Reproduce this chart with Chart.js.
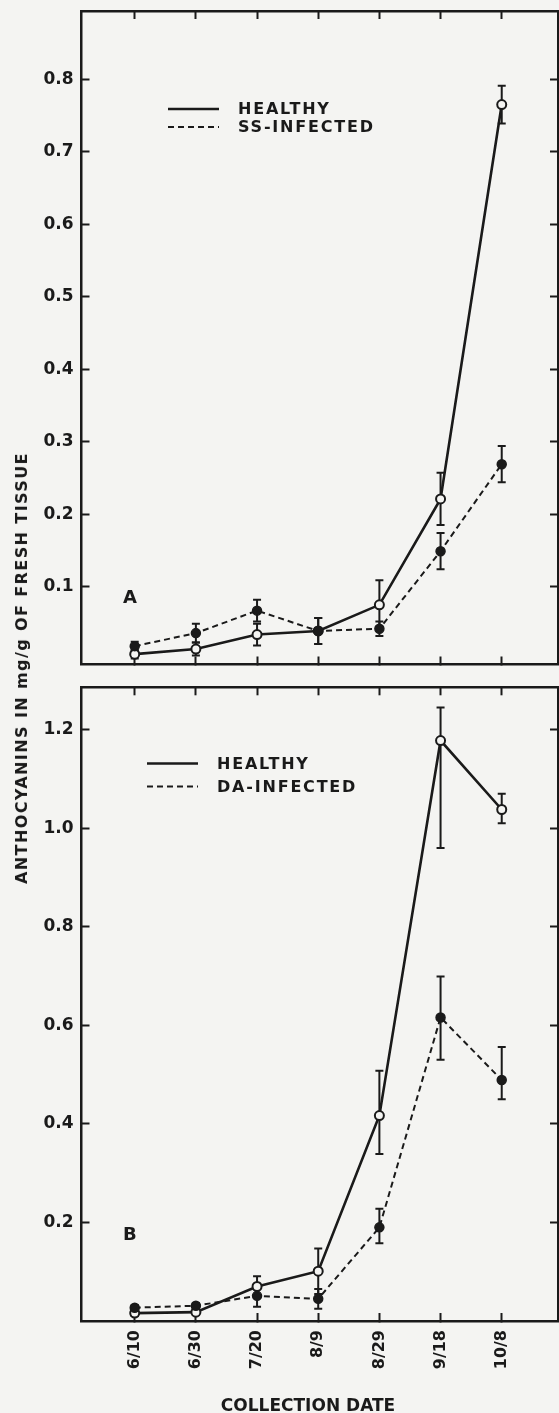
<!DOCTYPE html>
<html>
<head>
<meta charset="utf-8">
<script src="https://cdn.jsdelivr.net/npm/chart.js@4.4.1/dist/chart.umd.min.js"></script>
<style>
html, body { margin: 0; padding: 0; background: #f4f4f2; }
body { width: 559px; height: 1413px; position: relative; overflow: hidden; font-family: "DejaVu Sans", sans-serif; }
#wrapA { position: absolute; left: 0; top: 0; width: 559px; height: 680px; }
#wrapB { position: absolute; left: 0; top: 680px; width: 559px; height: 733px; }
.ytitle { position: absolute; left: 22px; top: 668px; transform: translate(-50%, -50%) rotate(-90deg);
  white-space: nowrap; font: bold 16px "DejaVu Sans"; letter-spacing: 1.4px; color: #1a1a1a; line-height: 1; }
.xtitle { position: absolute; left: 308px; top: 1405px; transform: translate(-50%, -50%);
  white-space: nowrap; font: bold 17px "DejaVu Sans"; color: #1a1a1a; line-height: 1; }
</style>
</head>
<body>
<div id="wrapA"><canvas id="chartA"></canvas></div>
<div id="wrapB"><canvas id="chartB"></canvas></div>
<div class="ytitle">ANTHOCYANINS IN mg/g OF FRESH TISSUE</div>
<div class="xtitle">COLLECTION DATE</div>
<script>
// ---------- data ----------
const dates = ['6/10', '6/30', '7/20', '8/9', '8/29', '9/18', '10/8'];

// Panel A
const healthyA     = [0.007, 0.014, 0.034, 0.039, 0.075, 0.221, 0.765];
const healthyErrA  = [0.006, 0.009, 0.015, 0.018, 0.034, 0.036, 0.026];
const ssInfectedA  = [0.018, 0.036, 0.067, 0.039, 0.042, 0.149, 0.269];
const ssErrA       = [0.006, 0.013, 0.015, 0.018, 0.010, 0.025, 0.025];
const yTicksA      = [0.1, 0.2, 0.3, 0.4, 0.5, 0.6, 0.7, 0.8];

// Panel B
const healthyB        = [0.016, 0.018, 0.070, 0.101, 0.417, 1.178, 1.038];
const healthyErrUpB   = [0.006, 0.006, 0.021, 0.046, 0.091, 0.067, 0.032];
const healthyErrDownB = [0.006, 0.006, 0.021, 0.046, 0.078, 0.218, 0.028];
const daInfectedB     = [0.027, 0.031, 0.051, 0.045, 0.190, 0.616, 0.489];
const daErrUpB        = [0.005, 0.005, 0.022, 0.020, 0.038, 0.083, 0.067];
const daErrDownB      = [0.005, 0.005, 0.022, 0.020, 0.032, 0.086, 0.039];
const yTicksB         = [0.2, 0.4, 0.6, 0.8, 1.0, 1.2];

// ---------- styling ----------
const ink = '#1a1a1a';
const paper = '#f4f4f2';
const tickFont = { family: 'DejaVu Sans', size: 17, weight: 'bold' };
const xRange = { min: -0.87, max: 6.92 };

const toPoints = arr => arr.map((v, i) => ({ x: i, y: v }));

function zeroPad(s) { s.paddingTop = 0; s.paddingBottom = 0; s.paddingLeft = 0; s.paddingRight = 0; }

const errorBars = {
  id: 'errorBars',
  beforeDatasetsDraw(chart) {
    const { ctx, scales } = chart;
    const x = scales.x, y = scales.y;
    ctx.save();
    ctx.strokeStyle = ink;
    ctx.lineWidth = 2;
    chart.data.datasets.forEach(ds => {
      ds.data.forEach((p, i) => {
        const px = x.getPixelForValue(p.x);
        const top = y.getPixelForValue(p.y + ds.errUp[i]);
        const bot = y.getPixelForValue(p.y - ds.errDown[i]);
        ctx.beginPath();
        ctx.moveTo(px, top); ctx.lineTo(px, bot);
        ctx.moveTo(px - 4, top); ctx.lineTo(px + 4, top);
        ctx.moveTo(px - 4, bot); ctx.lineTo(px + 4, bot);
        ctx.stroke();
      });
    });
    ctx.restore();
  }
};

const panelDecor = {
  id: 'panelDecor',
  afterDraw(chart, args, o) {
    const ctx = chart.ctx;
    ctx.save();
    ctx.fillStyle = ink;
    ctx.strokeStyle = ink;
    const items = [...chart.data.datasets].sort((a, b) => b.order - a.order);
    items.forEach((ds, k) => {
      const yy = o.legendY + k * o.rowGap;
      ctx.beginPath();
      ctx.lineWidth = ds.borderWidth;
      ctx.setLineDash(ds.borderDash || []);
      ctx.moveTo(o.lineX0, yy); ctx.lineTo(o.lineX1, yy);
      ctx.stroke();
      ctx.setLineDash([]);
      ctx.font = 'bold 16px "DejaVu Sans"';
      ctx.letterSpacing = '1.8px';
      ctx.textBaseline = 'middle';
      ctx.textAlign = 'left';
      ctx.fillText(ds.label, o.textX, yy + 1);
    });
    ctx.letterSpacing = '0px';
    ctx.font = 'bold 18px "DejaVu Sans"';
    ctx.textBaseline = 'alphabetic';
    ctx.fillText(o.letter, o.letterX, o.letterY);
    ctx.restore();
  }
};

function gridOpts() {
  return { drawOnChartArea: false, drawTicks: true, tickLength: -8, tickWidth: 2, color: ink };
}
function borderOpts() { return { display: true, width: 2.5, color: ink }; }

function xAxis(position, showLabels, height) {
  return {
    type: 'linear', position, min: xRange.min, max: xRange.max,
    afterBuildTicks: s => { s.ticks = dates.map((_, i) => ({ value: i })); },
    ticks: {
      display: showLabels, autoSkip: false, minRotation: 90, maxRotation: 90,
      padding: 17, font: { family: 'DejaVu Sans', size: 16, weight: 'bold' }, color: ink,
      callback: v => dates[v]
    },
    grid: gridOpts(), border: borderOpts(),
    afterFit: s => { s.height = height; zeroPad(s); }
  };
}
function yAxis(position, yMin, yMax, yTicks, showLabels) {
  return {
    type: 'linear', position, min: yMin, max: yMax,
    afterBuildTicks: s => { s.ticks = yTicks.map(v => ({ value: v })); },
    ticks: { display: showLabels, padding: 16, font: tickFont, color: ink, callback: v => v.toFixed(1) },
    grid: gridOpts(), border: borderOpts(),
    afterFit: s => { s.width = showLabels ? 81.5 : 0; zeroPad(s); }
  };
}

function healthyDs(label, vals, up, down) {
  return {
    label, data: toPoints(vals), errUp: up, errDown: down, order: 1,
    borderColor: ink, borderWidth: 2.6, borderDash: [], tension: 0,
    pointRadius: 4.5, pointBackgroundColor: paper, pointBorderColor: ink, pointBorderWidth: 2
  };
}
function infectedDs(label, vals, up, down) {
  return {
    label, data: toPoints(vals), errUp: up, errDown: down, order: 0,
    borderColor: ink, borderWidth: 2, borderDash: [6, 4], tension: 0,
    pointRadius: 4.5, pointBackgroundColor: ink, pointBorderColor: ink, pointBorderWidth: 1.5
  };
}

function makeChart(id, datasets, yMin, yMax, yTicks, xBottomHeight, showXLabels, padding, decor) {
  return new Chart(document.getElementById(id), {
    type: 'line',
    data: { datasets },
    options: {
      responsive: true, maintainAspectRatio: false, animation: false,
      layout: { padding, autoPadding: false },
      plugins: { legend: { display: false }, tooltip: { enabled: false }, panelDecor: decor },
      scales: {
        x: xAxis('bottom', showXLabels, xBottomHeight),
        xTop: xAxis('top', false, 0),
        y: yAxis('left', yMin, yMax, yTicks, true),
        yR: yAxis('right', yMin, yMax, yTicks, false)
      }
    },
    plugins: [errorBars, panelDecor]
  });
}

makeChart('chartA',
  [healthyDs('HEALTHY', healthyA, healthyErrA, healthyErrA),
   infectedDs('SS-INFECTED', ssInfectedA, ssErrA, ssErrA)],
  -0.0073, 0.894, yTicksA, 0, false,
  { top: 11, right: 1, bottom: 15.5, left: 0 },
  { legendY: 109, rowGap: 18, lineX0: 168, lineX1: 219, textX: 238, letter: 'A', letterX: 123, letterY: 603 });

makeChart('chartB',
  [healthyDs('HEALTHY', healthyB, healthyErrUpB, healthyErrDownB),
   infectedDs('DA-INFECTED', daInfectedB, daErrUpB, daErrDownB)],
  0, 1.286, yTicksB, 92, true,
  { top: 7.3, right: 1, bottom: 0, left: 0 },
  { legendY: 83.5, rowGap: 23, lineX0: 147, lineX1: 198, textX: 217, letter: 'B', letterX: 123, letterY: 560 });
</script>
</body>
</html>
